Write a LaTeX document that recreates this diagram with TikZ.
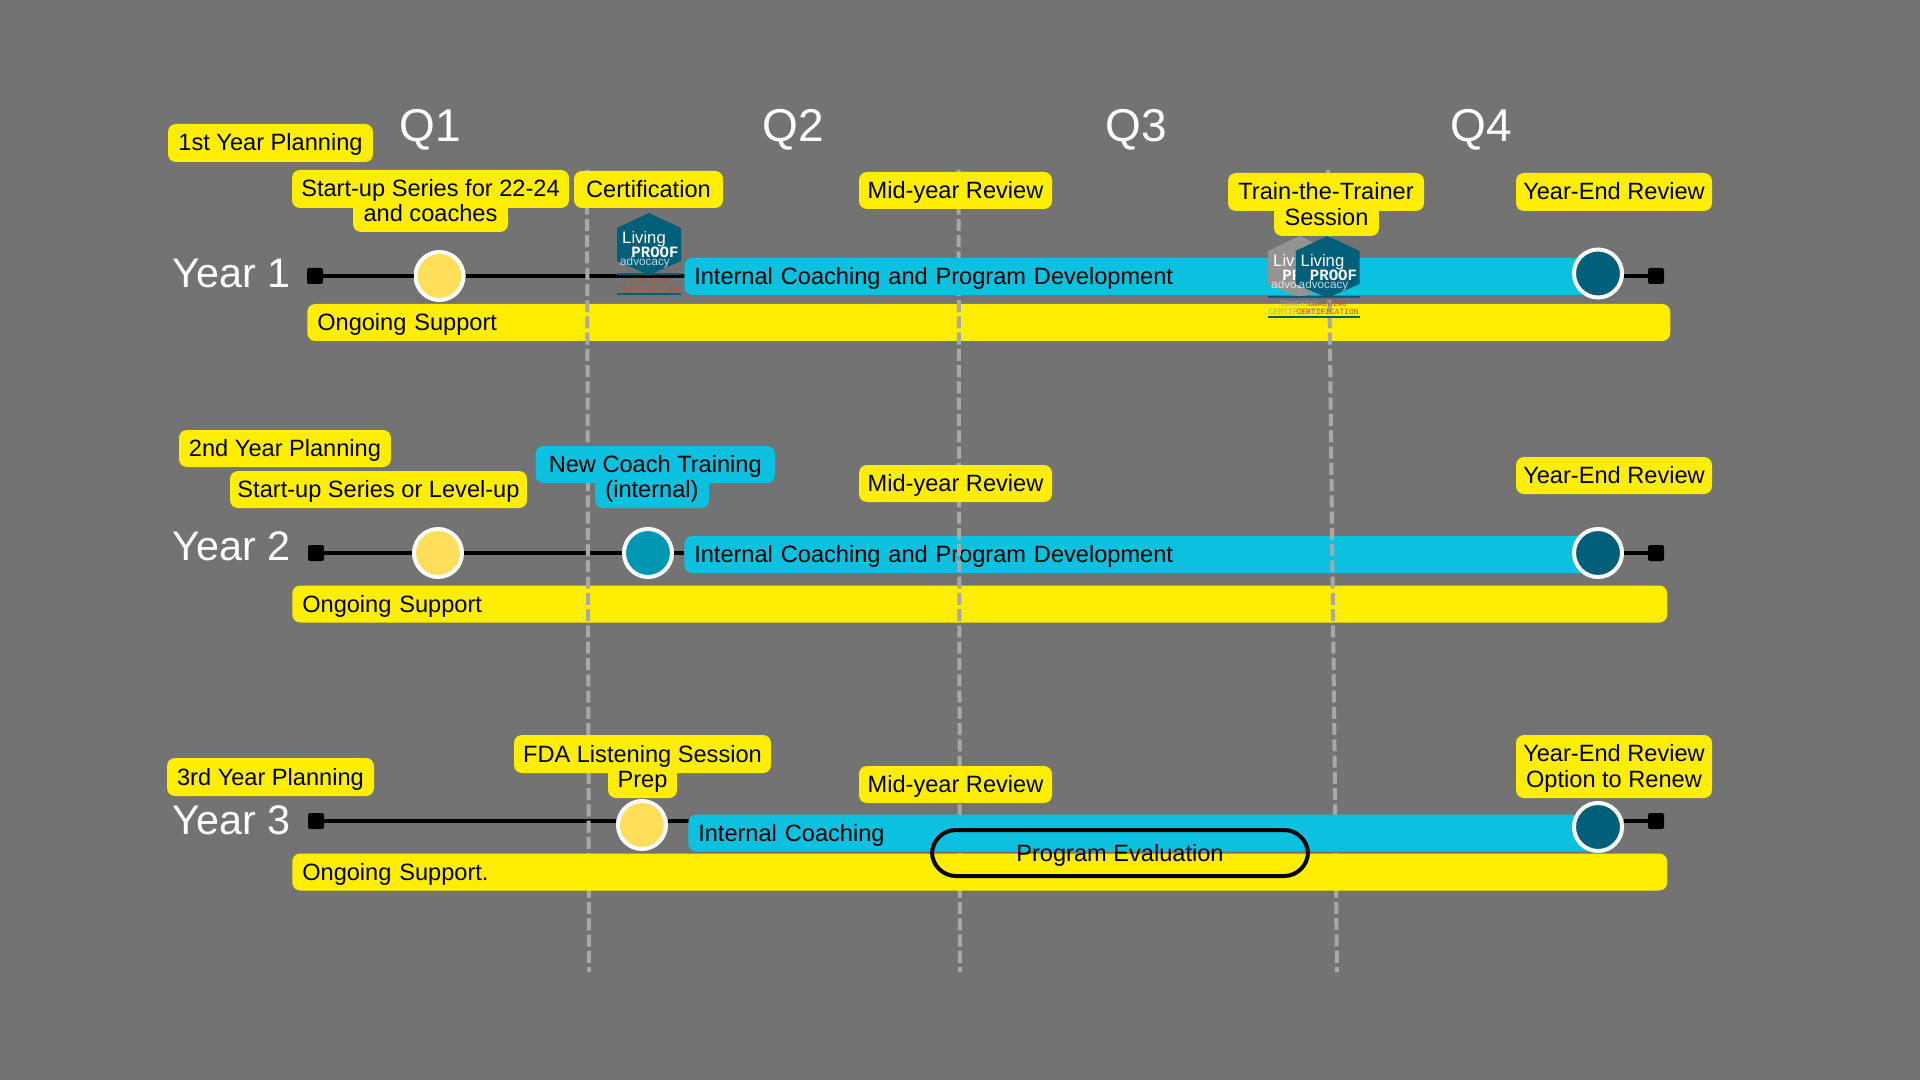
\documentclass[tikz,border=0pt]{standalone}
\usepackage{fontspec}
\setmainfont{Liberation Sans}
\newfontfamily\logofont{Liberation Mono}
\usepackage{tikz}
\usetikzlibrary{positioning}
\definecolor{slatebg}{HTML}{737373}
\definecolor{tagyellow}{HTML}{FFEE00}
\definecolor{tagblue}{HTML}{0CC0DF}
\definecolor{dotyellow}{HTML}{FFDE59}
\definecolor{dotblue}{HTML}{0097B2}
\definecolor{dotdark}{HTML}{015F7A}
\definecolor{dashgrey}{HTML}{A8A8A8}
\definecolor{logoorange}{HTML}{B0583A}
\newcommand{\tagfont}{\fontsize{17.7}{19}\selectfont}
\tikzset{
	tag/.style 2 args={fill=tagyellow,text=black,rounded corners=6pt,inner sep=0pt,align=center,
		minimum width=#1*0.75pt,minimum height=#2*0.75pt,text height=13pt,text depth=1pt,font=\tagfont},
	undertag/.style={text height=10pt,text depth=7pt},
	bar/.style={fill=tagyellow,text=black,rounded corners=6pt,inner xsep=7.5pt,inner ysep=0pt,anchor=west,
		text width=(#1-20)*0.75pt,minimum height=27.75pt,align=left,text height=13pt,text depth=1pt,font=\tagfont},
	blue/.style={fill=tagblue},
	endcap/.style={fill=black,rounded corners=1.5pt,inner sep=0pt,minimum size=12pt},
	dot/.style={circle,draw=white,line width=3pt,inner sep=0pt,minimum size=36pt,fill=#1},
	track/.style={line width=3pt,black},
	guide/.style={line width=3pt,dashgrey,dash pattern=on 9pt off 3.2pt},
	quarter/.style={text=white,inner sep=0pt,font=\fontsize{34.5}{38}\selectfont},
	yearlabel/.style={text=white,inner sep=0pt,anchor=west,font=\fontsize{31}{34}\selectfont},
	logotext/.style={inner sep=0pt}
}
% #1 name, #2 position, #3 hexagon colour, #4 small text colour
\newcommand{\logobadge}[4]{
	\begin{scope}[shift={#2}]
		\fill[#3] (0,-31)--++(32,15)--++(0,33)--++(-32,14)--++(-32,-14)--++(0,-33)--cycle;
		\draw[dotdark,line width=0.9pt] (-32,30)--++(64,0) (-32,50)--++(64,0);
		\node[logotext,text=white] (#1living) at (-5,-5) {\fontsize{12.5}{13}\selectfont Living};
		\node[logotext,text=white] (#1proof) at (6,8) {\logofont\bfseries\fontsize{11.8}{12}\selectfont PROOF};
		\node[logotext,text=white!75!#3] (#1adv) at (-4,18) {\fontsize{8.8}{9}\selectfont advocacy};
		\node[logotext,text=#4] (#1coach) at (0,37) {\logofont\fontsize{6}{7}\selectfont COACHING};
		\node[logotext,text=#4] (#1cert) at (0,45) {\logofont\fontsize{6}{7}\selectfont CERTIFICATION};
	\end{scope}
}
\begin{document}
\begin{tikzpicture}[x=0.75pt,y=-0.75pt]
	\useasboundingbox (0,0) rectangle (1920,1080);
	\fill[slatebg] (0,0) rectangle (1920,1080);
	% bars under the marks
	\node[bar=1363] (supportA) at (307,322.5) {Ongoing Support};
	\node[bar=906,blue] (coachB) at (684,554.5) {Internal Coaching and Program Development};
	\node[bar=1375] (supportB) at (292,604) {Ongoing Support};
	% tracks
	\node[endcap] (startA) at (315,276) {};
	\node[dot=dotyellow] (kickA) at (439.5,276) {};
	\coordinate (coachAw) at (686,276);
	\draw[track] (startA)--(kickA) (kickA)--(coachAw);
	\node[endcap] (startB) at (316,553) {};
	\node[dot=dotyellow] (kickB) at (438,553) {};
	\node[dot=dotblue] (trainB) at (648,553) {};
	\node[endcap] (stopB) at (1656,553) {};
	\node[dot=dotdark] (reviewB) at (1598,553) {};
	\draw[track] (startB)--(kickB) (kickB)--(trainB) (trainB)--(trainB-|coachB.west) (reviewB)--(stopB);
	\node[endcap] (startC) at (316,821) {};
	\node[dot=dotyellow] (kickC) at (642,825) {};
	\node[endcap] (stopC) at (1656,821) {};
	\coordinate (coachCw) at (690,821);
	\draw[track] (startC)--(startC-|kickC.west) (coachCw-|kickC.east)--(coachCw);
	% quarter marks
	\coordinate (guideAtop) at (587,170);
	\coordinate (guideAbot) at (589,972);
	\coordinate (guideBtop) at (958.5,170);
	\coordinate (guideBbot) at (960,972);
	\coordinate (guideCtop) at (1328,170);
	\coordinate (guideCbot) at (1337,972);
	\draw[guide] (guideAtop)--(guideAbot);
	\draw[guide] (guideBtop)--(guideBbot);
	\draw[guide] (guideCtop)--(guideCbot);
	% bars over the marks
	\node[bar=906,blue] (coachA) at (684,276.5) {Internal Coaching and Program Development};
	\node[endcap] (stopA) at (1656,276) {};
	\node[dot=dotdark] (reviewA) at (1598,273.5) {};
	\draw[track] (stopA-|reviewA.east)--(stopA);
	\node[bar=910,blue] (coachC) at (688,833) {Internal Coaching};
	\node[bar=1375] (supportC) at (292,872) {Ongoing Support.};
	\node[dot=dotdark] (reviewC) at (1598,827) {};
	\draw[track] (stopC-|reviewC.east)--(stopC);
	\node[draw=black,line width=3pt,rounded corners=18pt,inner sep=0pt,minimum width=282pt,minimum height=34.5pt,text=black,text height=13.5pt,text depth=0.5pt,font=\tagfont] (evalC) at (1120,853) {Program Evaluation};
	% headers
	\node[quarter] (qOne) at (430.5,130) {Q1};
	\node[quarter] (qTwo) at (793,130) {Q2};
	\node[quarter] (qThree) at (1136,130) {Q3};
	\node[quarter] (qFour) at (1481,130) {Q4};
	\node[yearlabel] (yearA) at (172,273) {Year 1};
	\node[yearlabel] (yearB) at (172,546) {Year 2};
	\node[yearlabel] (yearC) at (172,820) {Year 3};
	% first year tags
	\node[tag={205}{38}] (planA) at (270.5,143) {1st Year Planning};
	\fill[tagyellow] (353,204) rectangle (508,216);
	\node[tag={277}{38}] (seriesAa) at (430.5,189) {Start-up Series for 22-24};
	\node[tag={155}{24},undertag] (seriesAb) at (430.5,220) {and coaches};
	\node[tag={149}{37}] (certA) at (648.5,189.5) {Certification};
	\node[tag={193}{37}] (midA) at (955.5,190.5) {Mid-year Review};
	\fill[tagyellow] (1274,207) rectangle (1379,219);
	\node[tag={196}{38}] (sessionAa) at (1326,192) {Train-the-Trainer};
	\node[tag={105}{25},undertag] (sessionAb) at (1326.5,223.5) {Session};
	\node[tag={196}{38}] (endA) at (1614,192) {Year-End Review};
	% second year tags
	\node[tag={212}{37}] (planB) at (285,448.5) {2nd Year Planning};
	\node[tag={297}{37}] (seriesB) at (378.5,489.5) {Start-up Series or Level-up};
	\fill[tagblue] (595,479) rectangle (709,491);
	\node[tag={239.5}{37},blue] (newBa) at (655.25,464.5) {New Coach Training};
	\node[tag={114}{25},undertag,blue] (newBb) at (652,495.5) {(internal)};
	\node[tag={193}{37}] (midB) at (955.5,483.5) {Mid-year Review};
	\node[tag={196}{37}] (endB) at (1614,475.5) {Year-End Review};
	% third year tags
	\node[tag={207}{38}] (planC) at (270.5,777) {3rd Year Planning};
	\fill[tagyellow] (608,769) rectangle (677,781);
	\node[tag={257}{38}] (fdaCa) at (642.5,754) {FDA Listening Session};
	\node[tag={69}{25},undertag] (fdaCb) at (642.5,785.5) {Prep};
	\node[tag={193}{37}] (midC) at (955.5,784.5) {Mid-year Review};
	\node[tag={196}{63},text height=6pt,text depth=14pt] (endCa) at (1614,766.5) {Year-End Review};
	\node[tag={196}{38},fill=none] (endCb) at (1614,779) {Option to Renew};
	% badges
	\logobadge{certLogo}{(649,244)}{dotdark}{logoorange}
	\logobadge{greyLogo}{(1300,267)}{gray!85}{gray!70}
	\logobadge{trainLogo}{(1327.5,267)}{dotdark}{logoorange}
\end{tikzpicture}
\end{document}
